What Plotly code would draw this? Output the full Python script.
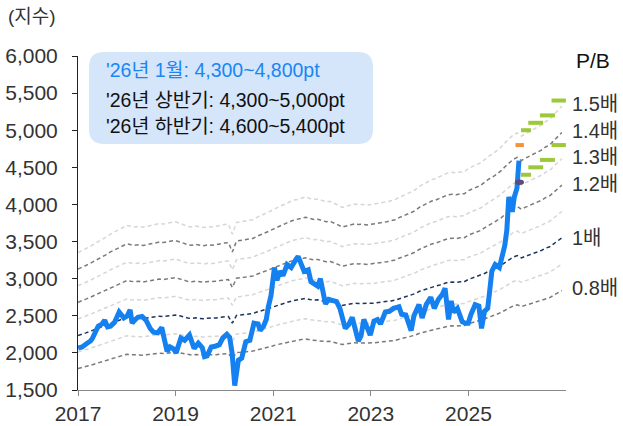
import pandas as pd
import plotly.graph_objects as go

# ---------------- data ----------------
KOSPI_DATES = [
    "2017-01-02", "2017-02-01", "2017-03-10", "2017-04-05", "2017-04-20", "2017-05-10", "2017-06-01",
    "2017-07-01", "2017-07-20", "2017-08-10", "2017-09-01", "2017-10-01", "2017-11-05", "2017-12-10",
    "2018-01-05", "2018-01-26", "2018-02-10", "2018-03-01", "2018-03-25", "2018-04-25", "2018-05-25",
    "2018-06-25", "2018-07-20", "2018-08-20", "2018-09-20", "2018-10-12", "2018-10-30", "2018-11-20",
    "2018-12-20", "2019-01-05", "2019-02-10", "2019-03-10", "2019-04-15", "2019-05-20", "2019-06-20",
    "2019-07-20", "2019-08-06", "2019-08-25", "2019-09-25", "2019-10-25", "2019-11-25", "2019-12-20",
    "2020-01-20", "2020-02-10", "2020-02-28", "2020-03-19", "2020-03-30", "2020-04-15", "2020-05-10",
    "2020-06-10", "2020-07-10", "2020-08-10", "2020-09-10", "2020-09-25", "2020-10-20", "2020-11-10",
    "2020-11-25", "2020-12-15", "2021-01-10", "2021-01-29", "2021-02-20", "2021-03-15", "2021-04-15",
    "2021-05-15", "2021-06-20", "2021-07-06", "2021-08-20", "2021-09-20", "2021-10-10", "2021-11-30",
    "2021-12-20", "2022-01-27", "2022-02-20", "2022-03-20", "2022-04-20", "2022-05-15", "2022-06-24",
    "2022-07-20", "2022-08-15", "2022-09-30", "2022-10-20", "2022-11-10", "2022-12-28", "2023-01-25",
    "2023-02-20", "2023-03-15", "2023-04-20", "2023-05-20", "2023-06-20", "2023-07-31", "2023-08-20",
    "2023-09-20", "2023-10-30", "2023-11-20", "2023-12-28", "2024-01-20", "2024-02-20", "2024-03-25",
    "2024-04-20", "2024-05-20", "2024-06-20", "2024-07-10", "2024-08-05", "2024-08-25", "2024-09-10",
    "2024-10-10", "2024-11-15", "2024-12-10", "2024-12-30", "2025-01-20", "2025-02-20", "2025-03-20",
    "2025-04-09", "2025-05-01", "2025-05-25", "2025-06-10", "2025-06-25", "2025-07-20", "2025-08-20",
    "2025-09-10", "2025-09-30", "2025-10-15", "2025-10-30", "2025-11-15", "2025-11-25", "2025-12-10",
    "2025-12-30", "2026-01-14",
]
KOSPI = [
    2065, 2080, 2130, 2160, 2200, 2290, 2360,
    2390, 2440, 2350, 2360, 2410, 2550, 2470,
    2500, 2580, 2400, 2440, 2480, 2490, 2440,
    2330, 2280, 2270, 2340, 2160, 2020, 2080,
    2050, 2000, 2200, 2170, 2240, 2060, 2130,
    2070, 1950, 1960, 2080, 2090, 2110, 2200,
    2250, 2210, 2000, 1560, 1720, 1900, 1930,
    2150, 2170, 2400, 2390, 2300, 2360, 2450,
    2620, 2770, 3150, 2980, 3100, 3040, 3190,
    3150, 3260, 3300, 3100, 3120, 2960, 2900,
    3000, 2660, 2720, 2710, 2690, 2600, 2330,
    2380, 2480, 2160, 2230, 2450, 2240, 2430,
    2450, 2390, 2550, 2560, 2600, 2620, 2520,
    2510, 2300, 2500, 2650, 2470, 2650, 2750,
    2600, 2720, 2790, 2870, 2450, 2700, 2550,
    2600, 2420, 2400, 2400, 2520, 2650, 2630,
    2330, 2560, 2600, 2850, 3100, 3190, 3150,
    3300, 3450, 3650, 4100, 4000, 3900, 4100,
    4220, 4590,
]

# monthly BPS (P/B 1.0x line), Jan 2017 .. Dec 2026
BPS = [
    2235, 2250, 2270, 2290, 2310, 2330, 2350, 2375, 2400, 2420, 2435, 2455,
    2478, 2470, 2465, 2470, 2462, 2470, 2480, 2487, 2495, 2490, 2500, 2505,
    2510, 2500, 2485, 2470, 2465, 2472, 2465, 2460, 2468, 2465, 2470, 2480,
    2487, 2490, 2400, 2505, 2510, 2515, 2520, 2530, 2550, 2565, 2578, 2600,
    2620, 2640, 2655, 2670, 2690, 2705, 2712, 2725, 2734, 2720, 2712, 2715,
    2700, 2690, 2695, 2680, 2660, 2640, 2650, 2665, 2670, 2665, 2667, 2660,
    2665, 2670, 2680, 2685, 2690, 2700, 2710, 2730, 2745, 2760, 2780, 2800,
    2830, 2850, 2870, 2890, 2900, 2915, 2935, 2950, 2955, 2950, 2958, 2960,
    2990, 3010, 3025, 3040, 3070, 3100, 3120, 3150, 3180, 3220, 3260, 3290,
    3310, 3280, 3300, 3320, 3340, 3360, 3380, 3410, 3430, 3470, 3510, 3550,
]
BPS_DATES = pd.date_range("2017-01-01", periods=len(BPS), freq="MS")

PB_MULTIPLES = [0.8, 0.9, 1.0, 1.1, 1.2, 1.3, 1.4, 1.5]
PB_LABELS = {0.8: "0.8배", 1.0: "1배", 1.2: "1.2배", 1.3: "1.3배", 1.4: "1.4배", 1.5: "1.5배"}
PB_LABEL_VALUES = {0.8: 2869, 1.0: 3542, 1.2: 4282, 1.3: 4640, 1.4: 4990, 1.5: 5359}

# 2026 targets
TARGET_START = ["2026-01-29", "2026-03-25", "2026-06-20", "2026-09-15"]
TARGET_END = ["2026-04-14", "2026-07-14", "2026-10-10", "2026-12-31"]
TARGET_LOW = [4400, 4500, 4600, 4800]
TARGET_HIGH = [5000, 5100, 5200, 5400]
JAN_TARGET = ("2025-12-19", "2026-02-20", 4800)
CURRENT = ("2026-01-18", 4300)

BOX_LINES = ["'26년 1월: 4,300~4,800pt", "'26년 상반기: 4,300~5,000pt", "'26년 하반기: 4,600~5,400pt"]
X_TICKS = ["2017-01-01", "2019-01-01", "2021-01-01", "2023-01-01", "2025-01-01"]
X_TICK_TEXT = ["2017", "2019", "2021", "2023", "2025"]

FONT = "Liberation Sans, Arial, Noto Sans CJK KR, sans-serif"
W, H = 623, 426
ML, MR, MT, MB = 78, 57, 56, 36
PW, PH = W - ML - MR, H - MT - MB

def px2paper(xp, yp):
    return (xp - ML) / PW, (H - MB - yp) / PH

fig = go.Figure()

LIGHT, DARK, NAVY = "#d6d6d6", "#7a7a7a", "#1c355e"
for m in PB_MULTIPLES:
    if abs(m - 1.0) < 1e-9:
        col = NAVY
    elif round(m * 10) % 2 == 0:
        col = DARK
    else:
        col = LIGHT
    fig.add_trace(go.Scatter(
        x=BPS_DATES, y=[b * m for b in BPS], mode="lines",
        line=dict(color=col, width=1.5, dash="4px,3px"), hoverinfo="skip", showlegend=False))

fig.add_trace(go.Scatter(x=KOSPI_DATES, y=KOSPI, mode="lines",
                         line=dict(color="#1580f0", width=5), showlegend=False))

for s, e, lo, hi in zip(TARGET_START, TARGET_END, TARGET_LOW, TARGET_HIGH):
    for v in (lo, hi):
        fig.add_trace(go.Scatter(x=[s, e], y=[v, v], mode="lines",
                                 line=dict(color="#9cc83a", width=4), showlegend=False))
fig.add_trace(go.Scatter(x=[JAN_TARGET[0], JAN_TARGET[1]], y=[JAN_TARGET[2]] * 2, mode="lines",
                         line=dict(color="#f5923e", width=4), showlegend=False))

shapes = []
shapes.append(dict(type="circle", xref="x", yref="y", xsizemode="pixel", ysizemode="pixel",
                   xanchor=CURRENT[0], yanchor=CURRENT[1], x0=-4.5, x1=4.5, y0=-2.8, y1=2.8,
                   fillcolor="#5c4b80", line=dict(width=0)))

# rounded annotation box
bx0, by0, bx1, by1, r = 89, 52, 373, 144, 15
def P(xp, yp):
    a, b = px2paper(xp, yp)
    return f"{a:.5f},{b:.5f}"
path = (f"M {P(bx0 + r, by0)} L {P(bx1 - r, by0)} Q {P(bx1, by0)} {P(bx1, by0 + r)} "
        f"L {P(bx1, by1 - r)} Q {P(bx1, by1)} {P(bx1 - r, by1)} L {P(bx0 + r, by1)} "
        f"Q {P(bx0, by1)} {P(bx0, by1 - r)} L {P(bx0, by0 + r)} Q {P(bx0, by0)} {P(bx0 + r, by0)} Z")
shapes.append(dict(type="path", xref="paper", yref="paper", path=path,
                   fillcolor="#d5e5fa", line=dict(width=0), layer="below"))

annotations = []
for i, (txt, yp) in enumerate(zip(BOX_LINES, [70, 100, 126])):
    xa, ya = px2paper(105, yp)
    annotations.append(dict(xref="paper", yref="paper", x=xa, y=ya, xanchor="left", yanchor="middle",
                            align="left", text=txt, showarrow=False, borderpad=0,
                            font=dict(family=FONT, size=19.5, color="#1a86f5" if i == 0 else "#111111")))

for m, lab in PB_LABELS.items():
    xa, _ = px2paper(571, 0)
    annotations.append(dict(xref="paper", yref="y", x=xa, y=PB_LABEL_VALUES[m], xanchor="left",
                            yanchor="middle", align="left", text=lab, showarrow=False, borderpad=0,
                            font=dict(family=FONT, size=20, color="#333333")))
xa, ya = px2paper(593, 61)
annotations.append(dict(xref="paper", yref="paper", x=xa, y=ya, xanchor="center", yanchor="middle",
                        text="P/B", showarrow=False, borderpad=0,
                        font=dict(family=FONT, size=21, color="#111111")))
xa, ya = px2paper(7, 17)
annotations.append(dict(xref="paper", yref="paper", x=xa, y=ya, xanchor="left", yanchor="middle",
                        align="left", text="(지수)", showarrow=False, borderpad=0,
                        font=dict(family=FONT, size=19, color="#333333")))

fig.update_layout(
    width=W, height=H, margin=dict(l=ML, r=MR, t=MT, b=MB, autoexpand=False),
    paper_bgcolor="white", plot_bgcolor="white", showlegend=False,
    shapes=shapes, annotations=annotations,
    font=dict(family=FONT, size=21, color="#333333"),
)
fig.update_xaxes(range=["2017-01-01", "2027-01-01"], tickmode="array", tickvals=X_TICKS,
                 ticktext=X_TICK_TEXT, automargin=False,
                 showgrid=False, zeroline=False, showline=True, linecolor="#888888", linewidth=1.2,
                 ticks="outside", ticklen=5, tickcolor="#888888", tickfont=dict(size=21, color="#333333"))
fig.update_yaxes(range=[1500, 6000], dtick=500, tickformat=",", showgrid=False, zeroline=False,
                 showline=True, linecolor="#222222", linewidth=1, ticks="outside", ticklen=5,
                 ticklabelstandoff=10, automargin=False,
                 tickcolor="#222222", tickfont=dict(size=21, color="#333333"))

fig.write_html("out.html", config={"displayModeBar": False, "staticPlot": False})

# remove the browser's default body margin so the figure sits at the page origin
with open("out.html", "r", encoding="utf-8") as f:
    html = f.read()
html = html.replace("<body>", '<body style="margin:0;padding:0;overflow:hidden">', 1)
with open("out.html", "w", encoding="utf-8") as f:
    f.write(html)
